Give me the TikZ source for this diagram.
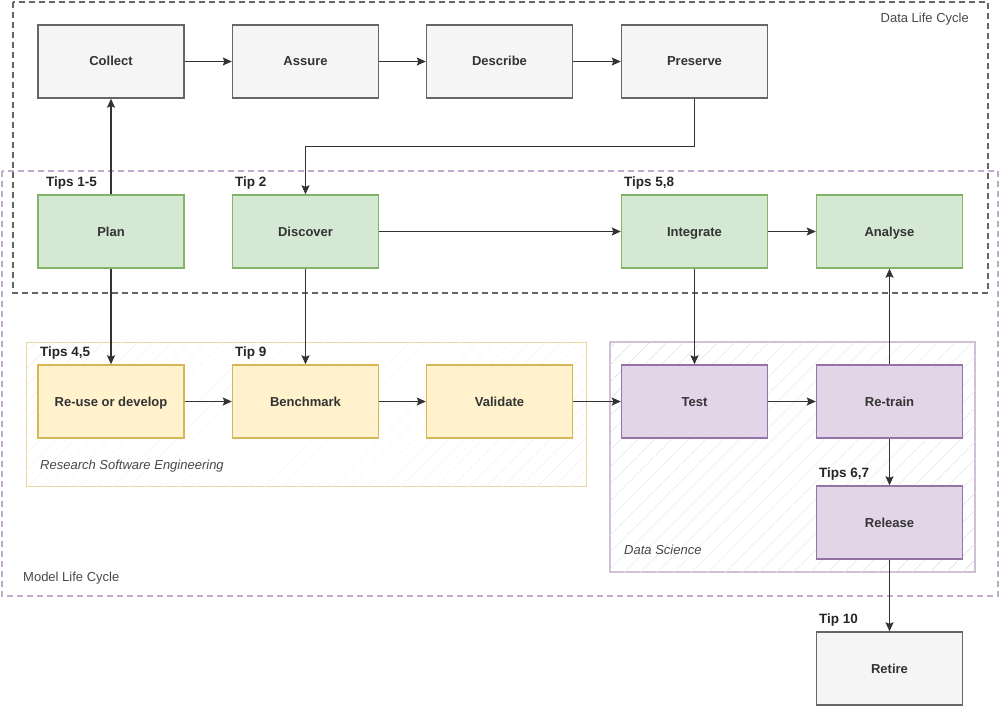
\documentclass[tikz,border=0pt]{standalone}
\usepackage{fontspec}
\setmainfont{Liberation Sans}
\usetikzlibrary{arrows.meta,patterns.meta}
\definecolor{grayfill}{HTML}{F5F5F5}
\definecolor{grayline}{HTML}{666666}
\definecolor{greenfill}{HTML}{D5E8D4}
\definecolor{greenline}{HTML}{82B366}
\definecolor{yellowfill}{HTML}{FFF2CC}
\definecolor{yellowline}{HTML}{D6B656}
\definecolor{purplefill}{HTML}{E1D5E7}
\definecolor{purpleline}{HTML}{9673A6}
\definecolor{txt}{HTML}{333333}
\definecolor{arrowc}{HTML}{333333}
\tikzset{
  box/.style={rectangle, minimum width=146pt, minimum height=73pt, inner sep=0pt,
    text height=9pt, text depth=0pt,
    line width=1.4pt, font=\fontsize{13}{15}\selectfont\bfseries, text=txt},
  graybox/.style={box, fill=grayfill, draw=grayline},
  greenbox/.style={box, fill=greenfill, draw=greenline},
  yellowbox/.style={box, fill=yellowfill, draw=yellowline},
  purplebox/.style={box, fill=purplefill, draw=purpleline},
  tiplabel/.style={anchor=west, inner sep=0pt, font=\fontsize{13.5}{15}\selectfont\bfseries, text=black!85},
  grouplabel/.style={inner sep=0pt, font=\fontsize{13}{15}\selectfont, text=txt!90},
  conn/.style={draw=arrowc, line width=1.2pt, -{Stealth[length=9pt,width=8pt,inset=1.5pt]}},
}
\begin{document}
\begin{tikzpicture}[x=1pt,y=-1pt]
\useasboundingbox (0,0) rectangle (1000,706);
% group containers
\draw[yellowline!55, line width=1pt, fill=white, postaction={pattern={Lines[angle=45,distance=13pt,line width=0.7pt]}, pattern color=yellowline!22}]
  (26,342) rectangle (586,486);
\draw[purpleline!45, line width=1.2pt, fill=white, postaction={pattern={Lines[angle=45,distance=13pt,line width=0.7pt]}, pattern color=black!15}]
  (610,342) rectangle (975,572);
\node[grouplabel, anchor=west, font=\fontsize{13}{15}\selectfont\itshape] (rselabel) at (40,466) {Research Software Engineering};
\node[grouplabel, anchor=west, font=\fontsize{13}{15}\selectfont\itshape] (dslabel) at (624,550) {Data Science};
% life cycle frames
\draw[grayline, line width=1.6pt, dash pattern=on 6pt off 4pt] (13,2) rectangle (988,293);
\draw[purpleline!60, line width=1.8pt, dash pattern=on 6pt off 4pt] (2,171) rectangle (998,596);
\node[grouplabel, anchor=east] (dlclabel) at (969,19) {Data Life Cycle};
\node[grouplabel, anchor=west] (mlclabel) at (23,578) {Model Life Cycle};
% nodes
\node[graybox] (collect) at (111,61.5) {Collect};
\node[graybox] (assure) at (305.5,61.5) {Assure};
\node[graybox] (describe) at (499.5,61.5) {Describe};
\node[graybox] (preserve) at (694.5,61.5) {Preserve};
\node[greenbox] (plan) at (111,231.5) {Plan};
\node[greenbox] (discover) at (305.5,231.5) {Discover};
\node[greenbox] (integrate) at (694.5,231.5) {Integrate};
\node[greenbox] (analyse) at (889.5,231.5) {Analyse};
\node[yellowbox] (reuse) at (111,401.5) {Re-use or develop};
\node[yellowbox] (benchmark) at (305.5,401.5) {Benchmark};
\node[yellowbox] (validate) at (499.5,401.5) {Validate};
\node[purplebox] (test) at (694.5,401.5) {Test};
\node[purplebox] (retrain) at (889.5,401.5) {Re-train};
\node[purplebox] (release) at (889.5,522.5) {Release};
\node[graybox] (retire) at (889.5,668.5) {Retire};
% tip labels
\node[tiplabel] (t1) at (46,183) {Tips 1-5};
\node[tiplabel] (t2) at (235,183) {Tip 2};
\node[tiplabel] (t3) at (624,183) {Tips 5,8};
\node[tiplabel] (t4) at (40,353) {Tips 4,5};
\node[tiplabel] (t5) at (235,353) {Tip 9};
\node[tiplabel] (t6) at (819,474) {Tips 6,7};
\node[tiplabel] (t7) at (819,620) {Tip 10};
% connectors
\draw[conn] (collect) -- (assure);
\draw[conn] (assure) -- (describe);
\draw[conn] (describe) -- (preserve);
\draw[conn] (plan) -- (collect);
\draw[conn] (preserve.south) -- ++(0,48) -| (discover.north);
\draw[conn] (discover) -- (integrate);
\draw[conn] (integrate) -- (analyse);
\draw[conn] (plan) -- (reuse);
\draw[conn] (discover) -- (benchmark);
\draw[conn] (integrate) -- (test);
\draw[conn] (reuse) -- (benchmark);
\draw[conn] (benchmark) -- (validate);
\draw[conn] (validate) -- (test);
\draw[conn] (test) -- (retrain);
\draw[conn] (retrain) -- (analyse);
\draw[conn] (retrain) -- (release);
\draw[conn] (release) -- (retire);
\end{tikzpicture}
\end{document}
